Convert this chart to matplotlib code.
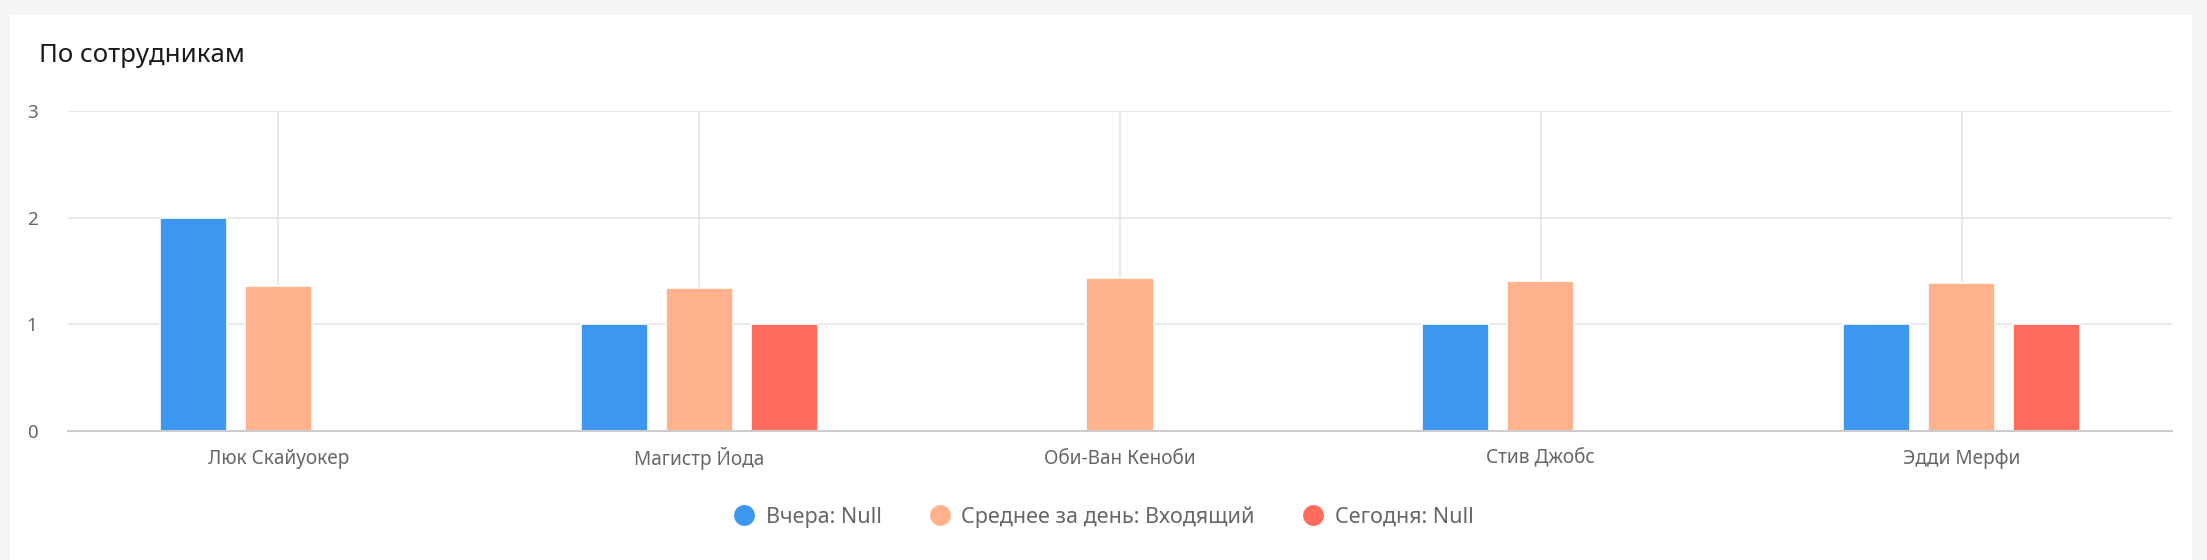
import numpy as np
import matplotlib
matplotlib.use("Agg")
import matplotlib.pyplot as plt
from matplotlib.lines import Line2D
from matplotlib.patches import Rectangle

plt.rcParams['font.family'] = ['Noto Sans', 'DejaVu Sans']

# data
employees = ["Люк Скайуокер", "Магистр Йода", "Оби-Ван Кеноби", "Стив Джобс", "Эдди Мерфи"]
yesterday = [2, 1, np.nan, 1, 1]
avg_day = [1.36, 1.34, 1.43, 1.41, 1.39]
today = [np.nan, 1, np.nan, np.nan, 1]
series_names = ["Вчера: Null", "Среднее за день: Входящий", "Сегодня: Null"]
colors = ["#3d96f0", "#ffb28c", "#ff6b5c"]
yticks = [0, 1, 2, 3]

W, H = 2207, 560
fig = plt.figure(figsize=(W / 100, H / 100), dpi=100)
fig.patch.set_facecolor("#f4f5f7")

# white card
fig.patches.append(Rectangle((10 / W, 0), (2192 - 10) / W, (H - 15) / H,
                             transform=fig.transFigure, facecolor="white",
                             edgecolor="none", zorder=0))

fig.text(39 / W, 1 - 56 / H, "По сотрудникам", fontsize=18.6, color="#1a1a1a",
         ha="left", va="center", zorder=5)

ax = fig.add_axes([68 / W, 129 / H, (2172 - 68) / W, (431 - 111) / H])
ax.set_facecolor("none")
ax.set_zorder(3)

x = np.arange(len(employees))
off = 0.202
bw = 0.16
for i, (vals, c) in enumerate(zip([yesterday, avg_day, today], colors)):
    ax.bar(x + (i - 1) * off, vals, width=bw, color=c, edgecolor="white",
           linewidth=1.2, zorder=3)

ax.set_xlim(-0.5, len(employees) - 0.5)
ax.set_ylim(0, 3)
ax.set_yticks(yticks)
ax.set_xticks(x)
ax.set_xticklabels(employees)

ax.grid(axis="y", color="#e6e6e6", linewidth=1.2, zorder=0)
for xi in x:
    ax.axvline(xi, color="#e6e6e6", linewidth=1.2, zorder=0)

for s in ["top", "right", "left"]:
    ax.spines[s].set_visible(False)
ax.spines["bottom"].set_color("#cccccc")
ax.spines["bottom"].set_linewidth(1.5)
ax.spines["bottom"].set_zorder(4)

ax.tick_params(axis="y", length=0, pad=22, labelsize=13.5, labelcolor="#666666")
ax.tick_params(axis="x", length=0, pad=20, labelsize=13.7, labelcolor="#666666")
for lbl in ax.get_xticklabels():
    lbl.set_verticalalignment("center")

handles = [Line2D([], [], marker="o", linestyle="none", markersize=15,
                  markerfacecolor=c, markeredgecolor="none") for c in colors]
leg = fig.legend(handles, series_names, loc="center", bbox_to_anchor=(0.5, 1 - 517 / H),
                 ncol=3, frameon=False, fontsize=15.5, labelcolor="#666666",
                 handletextpad=0.5, columnspacing=2.2, handlelength=1.0)
leg.set_zorder(5)

fig.savefig("out.png", dpi=100, facecolor=fig.get_facecolor())
